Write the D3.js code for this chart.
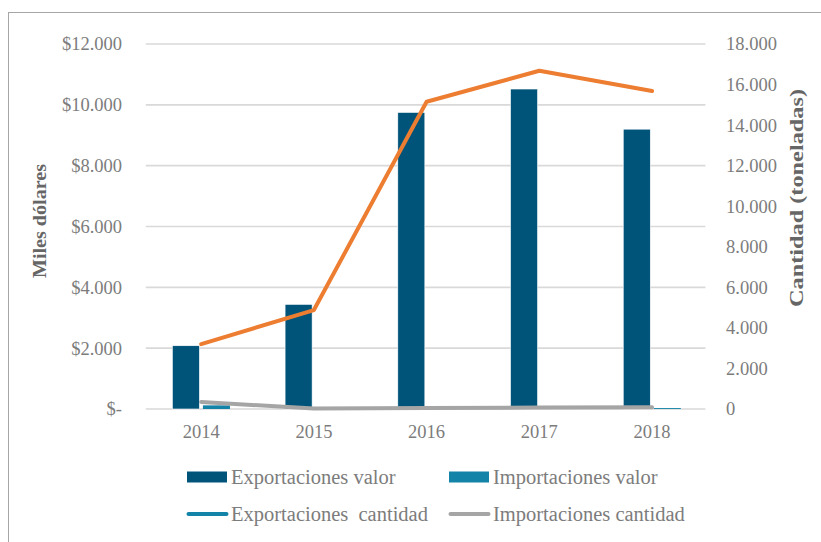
<!DOCTYPE html>
<html>
<head>
<meta charset="utf-8">
<script src="https://cdn.jsdelivr.net/npm/d3@7"></script>
<style>
  html, body { margin: 0; padding: 0; background: #fff; }
  svg text { font-family: "Liberation Serif", "DejaVu Serif", serif; white-space: pre; }
</style>
</head>
<body>
<svg id="chart" width="821" height="542"></svg>
<script>
// ---- data ----
const years = ["2014", "2015", "2016", "2017", "2018"];
const exportValue = [2080, 3440, 9750, 10520, 9200];     // miles de dólares
const importValue = [120, 0, 0, 0, 30];                   // miles de dólares
const exportQty = [3200, 4880, 15150, 16680, 15680];      // toneladas
const importQty = [345, 20, 50, 70, 90];                  // toneladas
const leftTicks = [0, 2000, 4000, 6000, 8000, 10000, 12000];
const rightTicks = [0, 2000, 4000, 6000, 8000, 10000, 12000, 14000, 16000, 18000];
const legendLabels = ["Exportaciones valor", "Importaciones valor", "Exportaciones  cantidad", "Importaciones cantidad"];

const C = {
  exportBar: "#00547a",
  importBar: "#1483a8",
  orange: "#ed7d31",
  blue: "#1483a8",
  gray: "#a5a5a5",
  grid: "#d9d9d9",
  text: "#7c7c7c",
  title: "#666666"
};

const svg = d3.select("#chart");

// frame
svg.append("rect").attr("x", 8.5).attr("y", 12.5).attr("width", 840).attr("height", 560)
  .attr("fill", "none").attr("stroke", "#a6a6a6").attr("stroke-width", 1);

const plot = { left: 144.8, right: 708.4, top: 44, bottom: 409 };

const x = d3.scaleBand().domain(years).range([plot.left, plot.right]).padding(0);
const yL = d3.scaleLinear().domain([0, 12000]).range([plot.bottom, plot.top]);
const yR = d3.scaleLinear().domain([0, 18000]).range([plot.bottom, plot.top]);

// inner grouping of bars
const groupW = 57.6;
const xi = d3.scaleBand().domain(["exp", "imp"]).range([0, groupW]).paddingInner(0.115);
const bandOffset = (x.bandwidth() - groupW) / 2;

// gridlines
svg.append("g").selectAll("line").data(leftTicks).join("line")
  .attr("x1", plot.left + 1).attr("x2", plot.right - 3)
  .attr("y1", d => yL(d)).attr("y2", d => yL(d))
  .attr("stroke", C.grid).attr("stroke-width", 1.6);

// left axis labels
const fmtL = d => d === 0 ? "$-" : "$" + d3.format(",")(d).replace(/,/g, ".");
svg.append("g").selectAll("text").data(leftTicks).join("text")
  .attr("x", 122).attr("y", d => yL(d)).attr("dy", "0.35em")
  .attr("text-anchor", "end").attr("font-size", 18.5).attr("fill", C.text)
  .text(fmtL);

// right axis labels
const fmtR = d => d3.format(",")(d).replace(/,/g, ".");
svg.append("g").selectAll("text").data(rightTicks).join("text")
  .attr("x", 726).attr("y", d => yR(d)).attr("dy", "0.35em")
  .attr("text-anchor", "start").attr("font-size", 18.5).attr("fill", C.text)
  .text(fmtR);

// x labels
svg.append("g").selectAll("text").data(years).join("text")
  .attr("x", d => x(d) + x.bandwidth() / 2).attr("y", 438)
  .attr("text-anchor", "middle").attr("font-size", 18.5).attr("fill", C.text)
  .text(d => d);

// axis titles
svg.append("text")
  .attr("transform", "translate(46,221) rotate(-90)")
  .attr("text-anchor", "middle").attr("font-size", 19.5).attr("font-weight", "bold")
  .attr("fill", C.title).attr("textLength", 114).attr("lengthAdjust", "spacingAndGlyphs")
  .text("Miles dólares");
svg.append("text")
  .attr("transform", "translate(803,198) rotate(-90)")
  .attr("text-anchor", "middle").attr("font-size", 19.5).attr("font-weight", "bold")
  .attr("fill", C.title).attr("textLength", 218).attr("lengthAdjust", "spacingAndGlyphs")
  .text("Cantidad (toneladas)");

// bars
const bars = svg.append("g");
bars.selectAll("rect.exp").data(years).join("rect").attr("class", "exp")
  .attr("x", d => x(d) + bandOffset + xi("exp"))
  .attr("width", xi.bandwidth())
  .attr("y", (d, i) => yL(exportValue[i]))
  .attr("height", (d, i) => yL(0) - yL(exportValue[i]))
  .attr("fill", C.exportBar).attr("stroke", "#ffffff").attr("stroke-width", 0.6);
bars.selectAll("rect.imp").data(years).join("rect").attr("class", "imp")
  .attr("x", d => x(d) + bandOffset + xi("imp"))
  .attr("width", xi.bandwidth())
  .attr("y", (d, i) => yL(importValue[i]))
  .attr("height", (d, i) => yL(0) - yL(importValue[i]))
  .attr("fill", C.importBar);

// lines
const cx = d => x(d) + x.bandwidth() / 2;
const lineQ = d3.line().x((d, i) => cx(years[i])).y(d => yR(d));
svg.append("path").datum(importQty).attr("d", lineQ)
  .attr("fill", "none").attr("stroke", C.gray).attr("stroke-width", 4)
  .attr("stroke-linecap", "round").attr("stroke-linejoin", "round");
svg.append("path").datum(exportQty).attr("d", lineQ)
  .attr("fill", "none").attr("stroke", C.orange).attr("stroke-width", 4)
  .attr("stroke-linecap", "round").attr("stroke-linejoin", "round");

// legend
const legend = svg.append("g");
const legendItems = [
  { label: legendLabels[0], type: "rect", color: C.exportBar, x: 187, y: 477 },
  { label: legendLabels[1], type: "rect", color: C.importBar, x: 449, y: 477 },
  { label: legendLabels[2], type: "line", color: C.blue, x: 187, y: 514 },
  { label: legendLabels[3], type: "line", color: C.gray, x: 449, y: 514 }
];
legendItems.forEach(it => {
  if (it.type === "rect") {
    legend.append("rect").attr("x", it.x).attr("y", it.y - 5.5).attr("width", 40).attr("height", 11)
      .attr("fill", it.color);
  } else {
    legend.append("line").attr("x1", it.x + 1.5).attr("x2", it.x + 39.5)
      .attr("y1", it.y).attr("y2", it.y)
      .attr("stroke", it.color).attr("stroke-width", 4).attr("stroke-linecap", "round");
  }
  legend.append("text").attr("x", it.x + 44).attr("y", it.y).attr("dy", "0.33em")
    .attr("font-size", 20.5).attr("fill", C.text).text(it.label);
});
</script>
</body>
</html>
